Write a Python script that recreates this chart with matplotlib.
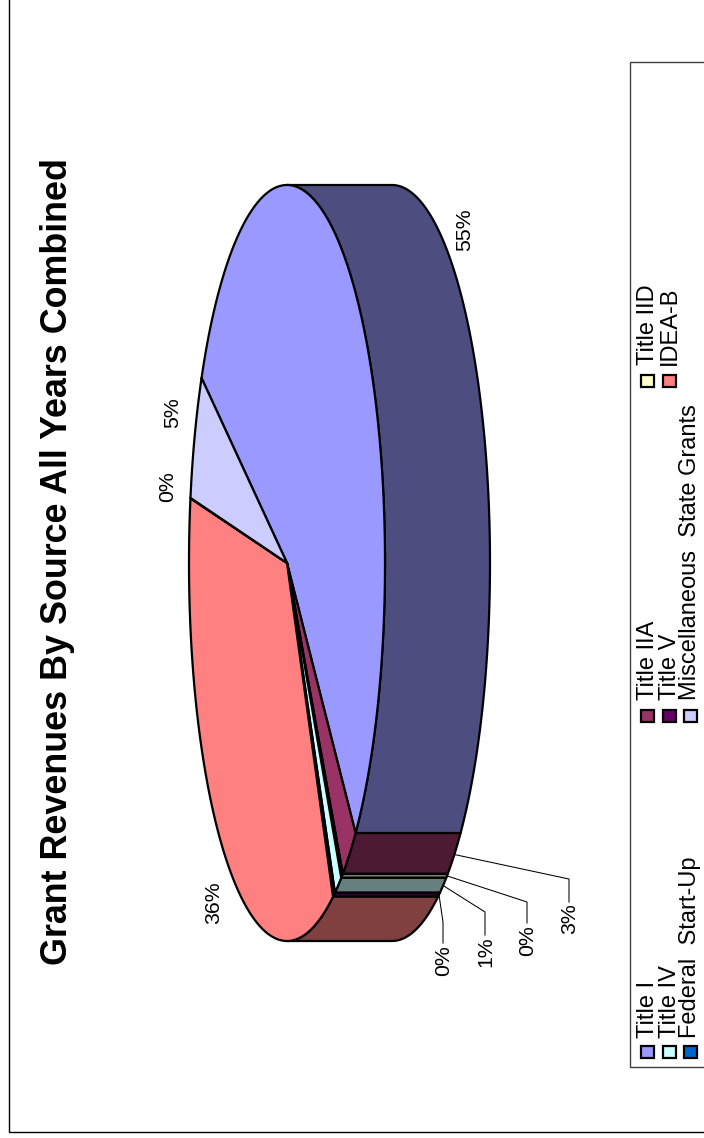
import numpy as np
import matplotlib
matplotlib.use("Agg")
import matplotlib.pyplot as plt
from matplotlib.patches import Polygon, Rectangle
from matplotlib.colors import to_rgb

plt.rcParams['font.family'] = ['Liberation Sans', 'DejaVu Sans']

TITLE = "Grant Revenues By Source All Years Combined"
sources = ["Title I", "Title IIA", "Title IID", "Title IV", "Title V",
           "IDEA-B", "Federal  Start-Up", "Miscellaneous  State Grants"]
shares = [54.5, 2.7, 0.3, 1.2, 0.35, 35.5, 0.02, 5.38]
labels = ["55%", "3%", "0%", "1%", "0%", "36%", "0%", "5%"]
colors = ["#9999FF", "#993366", "#FFFFCC", "#CCFFFF", "#660066",
          "#FF8080", "#0066CC", "#CCCCFF"]

# Layout of the pie, in pixels of the 704x1138 picture
CX, CY, RX, RY, DEPTH = 287, 563, 98, 378, 105
START = 209.3
W, H = 704, 1138
LW = 1.6

fig = plt.figure(figsize=(W / 100, H / 100), dpi=100)
ax = fig.add_axes([0, 0, 1, 1])
ax.set_xlim(0, W)
ax.set_ylim(H, 0)
ax.axis("off")

# outer frame and legend box
ax.add_patch(Rectangle((9, -10), W + 20, 1141.5, fc="white", ec="black", lw=1.0))
ax.add_patch(Rectangle((630, 62), W, 1005, fc="white", ec="#404040", lw=1.0))

def arc(t0, t1, dx=0):
    n = max(2, int(abs(t1 - t0) * 2) + 2)
    t = np.radians(np.linspace(t0, t1, n))
    return np.column_stack([CX + dx + RX * np.cos(t), CY + RY * np.sin(t)])

edges = START + np.concatenate([[0], np.cumsum(shares)]) * 360 / sum(shares)

# side wall: only the near half of the rim shows
for a, b, c in zip(edges[:-1], edges[1:], colors):
    lo, hi = max(a, 270), min(b, 450)
    if hi <= lo:
        continue
    side = tuple(v * 0.5 for v in to_rgb(c))
    pts = np.vstack([arc(lo, hi), arc(hi, lo, DEPTH)])
    ax.add_patch(Polygon(pts, closed=True, fc=side, ec="black", lw=LW, joinstyle="round"))

# top face
for a, b, c in zip(edges[:-1], edges[1:], colors):
    pts = np.vstack([[CX, CY], arc(a, b)])
    ax.add_patch(Polygon(pts, closed=True, fc=c, ec="black", lw=LW, joinstyle="round"))

# data labels: directly placed
direct = {0: (465, 230), 5: (214, 903), 6: (168, 487), 7: (173, 413)}
for i, (x, y) in direct.items():
    ax.text(x, y, labels[i], rotation=90, ha="center", va="center", fontsize=15.3)

# data labels with leader lines: elbow, end of line, text centre
leaders = {1: ((569, 879), (569, 902), 919),
           2: ((527, 902), (527, 923), 941),
           3: ((485, 912), (485, 935), 952),
           4: ((443, 922), (443, 943), 961)}
for i, (elbow, end, ty) in leaders.items():
    mid = np.radians((edges[i] + edges[i + 1]) / 2)
    sx = CX + DEPTH + RX * np.cos(mid)
    sy = CY + RY * np.sin(mid)
    ax.plot([sx, elbow[0], end[0]], [sy, elbow[1], end[1]], color="black", lw=0.75)
    ax.text(end[0] + 1, ty, labels[i], rotation=90, ha="center", va="center", fontsize=15.3)

ax.text(58, 562, TITLE, rotation=90, ha="center", va="center",
        fontsize=25.8, fontweight="bold")

# legend (three rows, read left-to-right in the rotated frame)
rows_x = [647, 669, 690]
text_x = [648, 670, 690]
cols_y = [1051.5, 716, 381]
text_y = [1038, 700, 365]
for k, (name, c) in enumerate(zip(sources, colors)):
    col, row = k % 3, k // 3
    x, y = rows_x[row], cols_y[col]
    ax.add_patch(Rectangle((x - 6.5, y - 6), 13, 12, fc=c, ec="black", lw=1.6))
    ax.text(text_x[row], text_y[col], name, rotation=90, ha="center", va="bottom",
            fontsize=17)

fig.savefig("out.png", dpi=100, facecolor="white")
